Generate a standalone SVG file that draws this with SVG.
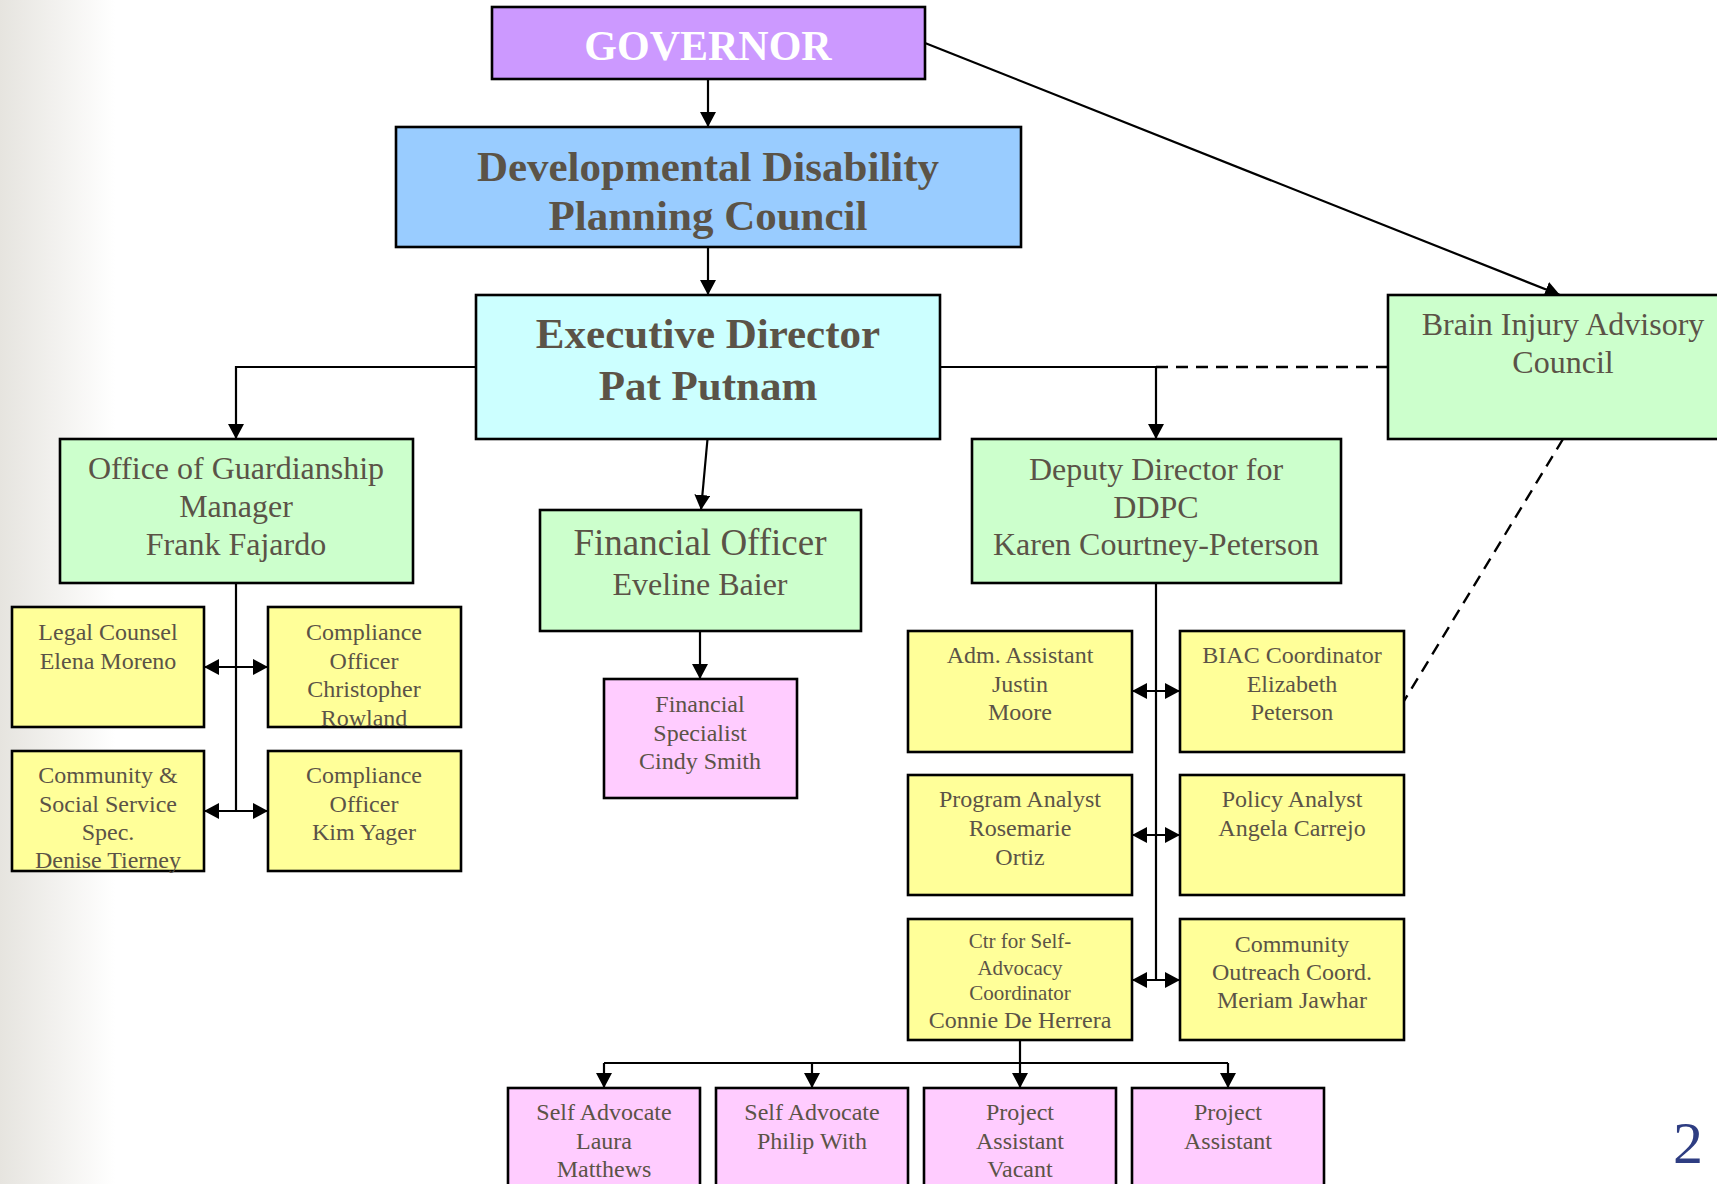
<svg xmlns="http://www.w3.org/2000/svg" width="1717" height="1184" viewBox="0 0 1717 1184">
<defs>
  <linearGradient id="bgGrad" x1="0" y1="0" x2="1" y2="0">
    <stop offset="0" stop-color="#E6E4DF"/>
    <stop offset="1" stop-color="#FFFFFF"/>
  </linearGradient>
  <marker id="ah" markerUnits="userSpaceOnUse" markerWidth="15" markerHeight="16" viewBox="0 0 15 16" refX="15" refY="8" orient="auto-start-reverse">
    <path d="M0,0 L15,8 L0,16 z" fill="#000"/>
  </marker>
</defs>
<style>
  .box{stroke:#000;stroke-width:2.6}
  .purple{fill:#CC99FF}
  .blue{fill:#99CCFF}
  .cyan{fill:#CCFFFF}
  .green{fill:#CCFFCC}
  .yellow{fill:#FFFF99}
  .pink{fill:#FFCCFF}
  .t{font-family:"Liberation Serif","Times New Roman",serif;fill:#5B5347;text-anchor:middle}
  .b{font-weight:bold}
  .w{fill:#FFFFFF}
  .s21{font-size:21px}
  .s24{font-size:24px}
  .s32{font-size:32px}
  .s37{font-size:37px}
  .s43{font-size:43px}
  .ln{fill:none;stroke:#000;stroke-width:2.2}
  .arr{marker-end:url(#ah)}
  .bi{marker-start:url(#ah);marker-end:url(#ah)}
  .dash{fill:none;stroke:#000;stroke-width:2.4;stroke-dasharray:12 8}
</style>
<rect x="0" y="0" width="1717" height="1184" fill="#FFFFFF"/>
<rect x="0" y="0" width="115" height="1184" fill="url(#bgGrad)"/>

<g id="connectors">
  <path class="ln arr" d="M708,79 V127"/>
  <path class="ln arr" d="M708,247 V295"/>
  <path class="ln arr" d="M925,43 L1560,295"/>
  <path class="ln arr" d="M476,367 H236 V439"/>
  <path class="ln arr" d="M940,367 H1156 V439"/>
  <path class="dash" d="M1156,367 H1388"/>
  <path class="ln arr" d="M707.5,439 L701,510"/>
  <path class="ln arr" d="M700,631 V679"/>
  <path class="ln" d="M236,583 V811"/>
  <path class="ln bi" d="M204,667 H268"/>
  <path class="ln bi" d="M204,811 H268"/>
  <path class="ln" d="M1156,583 V980"/>
  <path class="ln bi" d="M1132,691 H1180"/>
  <path class="ln bi" d="M1132,835 H1180"/>
  <path class="ln bi" d="M1132,980 H1180"/>
  <path class="ln arr" d="M1020,1040 V1088"/>
  <path class="ln" d="M604,1063 H1228"/>
  <path class="ln arr" d="M604,1063 V1088"/>
  <path class="ln arr" d="M812,1063 V1088"/>
  <path class="ln arr" d="M1228,1063 V1088"/>
  <path class="dash" d="M1563,439 L1404,701"/>
</g>

<g id="governor">
  <rect class="box purple" x="492" y="7" width="433" height="72"/>
  <text class="t b w" x="708" y="60" font-size="42">GOVERNOR</text>
</g>
<g id="ddpc">
  <rect class="box blue" x="396" y="127" width="625" height="120"/>
  <text class="t b s43" x="708" y="181">Developmental Disability</text>
  <text class="t b s43" x="708" y="230">Planning Council</text>
</g>
<g id="executive-director">
  <rect class="box cyan" x="476" y="295" width="464" height="144"/>
  <text class="t b s43" x="708" y="348">Executive Director</text>
  <text class="t b s43" x="708" y="400">Pat Putnam</text>
</g>
<g id="biac">
  <rect class="box green" x="1388" y="295" width="360" height="144"/>
  <text class="t s32" x="1563" y="335">Brain Injury Advisory</text>
  <text class="t s32" x="1563" y="373">Council</text>
</g>
<g id="guardianship">
  <rect class="box green" x="60" y="439" width="353" height="144"/>
  <text class="t s32" x="236" y="479">Office of Guardianship</text>
  <text class="t s32" x="236" y="517">Manager</text>
  <text class="t s32" x="236" y="555">Frank Fajardo</text>
</g>
<g id="financial-officer">
  <rect class="box green" x="540" y="510" width="321" height="121"/>
  <text class="t s37" x="700" y="555">Financial Officer</text>
  <text class="t s32" x="700" y="595">Eveline Baier</text>
</g>
<g id="financial-specialist">
  <rect class="box pink" x="604" y="679" width="193" height="119"/>
  <text class="t s24" x="700" y="712">Financial</text>
  <text class="t s24" x="700" y="741">Specialist</text>
  <text class="t s24" x="700" y="769">Cindy Smith</text>
</g>
<g id="deputy-director">
  <rect class="box green" x="972" y="439" width="369" height="144"/>
  <text class="t s32" x="1156" y="480">Deputy Director for</text>
  <text class="t s32" x="1156" y="518">DDPC</text>
  <text class="t s32" x="1156" y="555">Karen Courtney-Peterson</text>
</g>
<g id="legal-counsel">
  <rect class="box yellow" x="12" y="607" width="192" height="120"/>
  <text class="t s24" x="108" y="640">Legal Counsel</text>
  <text class="t s24" x="108" y="669">Elena Moreno</text>
</g>
<g id="compliance-rowland">
  <rect class="box yellow" x="268" y="607" width="193" height="120"/>
  <text class="t s24" x="364" y="640">Compliance</text>
  <text class="t s24" x="364" y="669">Officer</text>
  <text class="t s24" x="364" y="697">Christopher</text>
  <text class="t s24" x="364" y="726">Rowland</text>
</g>
<g id="community-social">
  <rect class="box yellow" x="12" y="751" width="192" height="120"/>
  <text class="t s24" x="108" y="783">Community &amp;</text>
  <text class="t s24" x="108" y="812">Social Service</text>
  <text class="t s24" x="108" y="840">Spec.</text>
  <text class="t s24" x="108" y="868">Denise Tierney</text>
</g>
<g id="compliance-yager">
  <rect class="box yellow" x="268" y="751" width="193" height="120"/>
  <text class="t s24" x="364" y="783">Compliance</text>
  <text class="t s24" x="364" y="812">Officer</text>
  <text class="t s24" x="364" y="840">Kim Yager</text>
</g>
<g id="adm-assistant">
  <rect class="box yellow" x="908" y="631" width="224" height="121"/>
  <text class="t s24" x="1020" y="663">Adm. Assistant</text>
  <text class="t s24" x="1020" y="692">Justin</text>
  <text class="t s24" x="1020" y="720">Moore</text>
</g>
<g id="biac-coordinator">
  <rect class="box yellow" x="1180" y="631" width="224" height="121"/>
  <text class="t s24" x="1292" y="663">BIAC Coordinator</text>
  <text class="t s24" x="1292" y="692">Elizabeth</text>
  <text class="t s24" x="1292" y="720">Peterson</text>
</g>
<g id="program-analyst">
  <rect class="box yellow" x="908" y="775" width="224" height="120"/>
  <text class="t s24" x="1020" y="807">Program Analyst</text>
  <text class="t s24" x="1020" y="836">Rosemarie</text>
  <text class="t s24" x="1020" y="865">Ortiz</text>
</g>
<g id="policy-analyst">
  <rect class="box yellow" x="1180" y="775" width="224" height="120"/>
  <text class="t s24" x="1292" y="807">Policy Analyst</text>
  <text class="t s24" x="1292" y="836">Angela Carrejo</text>
</g>
<g id="self-advocacy-coordinator">
  <rect class="box yellow" x="908" y="919" width="224" height="121"/>
  <text class="t s21" x="1020" y="948">Ctr for Self-</text>
  <text class="t s21" x="1020" y="975">Advocacy</text>
  <text class="t s21" x="1020" y="1000">Coordinator</text>
  <text class="t s24" x="1020" y="1028">Connie De Herrera</text>
</g>
<g id="community-outreach">
  <rect class="box yellow" x="1180" y="919" width="224" height="121"/>
  <text class="t s24" x="1292" y="952">Community</text>
  <text class="t s24" x="1292" y="980">Outreach Coord.</text>
  <text class="t s24" x="1292" y="1008">Meriam Jawhar</text>
</g>
<g id="self-advocate-matthews">
  <rect class="box pink" x="508" y="1088" width="192" height="120"/>
  <text class="t s24" x="604" y="1120">Self Advocate</text>
  <text class="t s24" x="604" y="1149">Laura</text>
  <text class="t s24" x="604" y="1177">Matthews</text>
</g>
<g id="self-advocate-with">
  <rect class="box pink" x="716" y="1088" width="192" height="120"/>
  <text class="t s24" x="812" y="1120">Self Advocate</text>
  <text class="t s24" x="812" y="1149">Philip With</text>
</g>
<g id="project-assistant-vacant">
  <rect class="box pink" x="924" y="1088" width="192" height="120"/>
  <text class="t s24" x="1020" y="1120">Project</text>
  <text class="t s24" x="1020" y="1149">Assistant</text>
  <text class="t s24" x="1020" y="1177">Vacant</text>
</g>
<g id="project-assistant">
  <rect class="box pink" x="1132" y="1088" width="192" height="120"/>
  <text class="t s24" x="1228" y="1120">Project</text>
  <text class="t s24" x="1228" y="1149">Assistant</text>
</g>
<text x="1688" y="1163" font-family="Liberation Serif, serif" font-size="60" fill="#2E3D82" text-anchor="middle">2</text>
</svg>
